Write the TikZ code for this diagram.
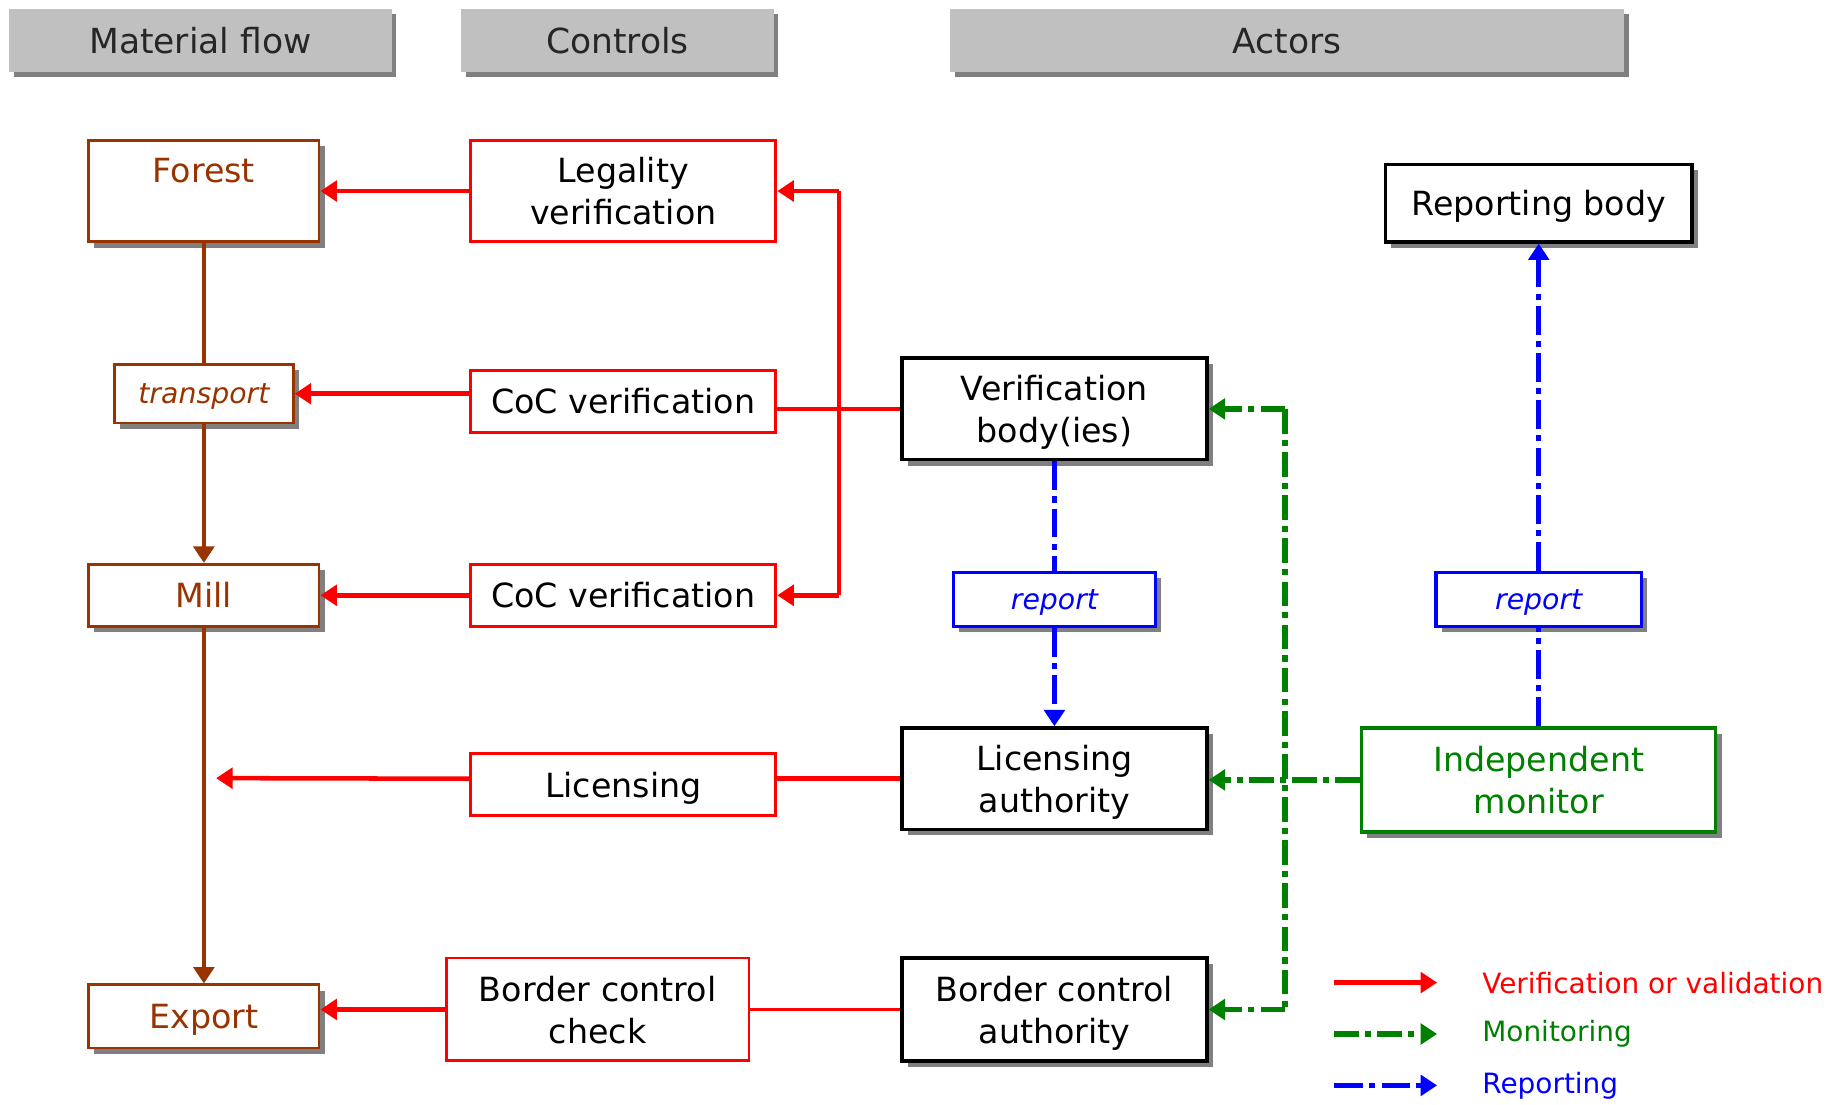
\documentclass[tikz,border=0pt]{standalone}
\usepackage{fontspec}
\setmainfont{DejaVu Sans}
\usetikzlibrary{arrows.meta,shadows}
\definecolor{mfbrown}{RGB}{153,51,0}
\definecolor{mfgreen}{RGB}{0,128,0}
\definecolor{hdgray}{RGB}{192,192,192}
\tikzset{
    boxshadow/.style={drop shadow={shadow xshift=1.4pt,shadow yshift=-1.4pt,opacity=1,fill=black!50}},
    txt/.style={font=\fontsize{8.1}{10.2}\selectfont,align=center,text depth=0pt},
    small/.style={font=\fontsize{6.9}{8}\selectfont\itshape}
}
\begin{document}
\begin{tikzpicture}[x=0.01cm,y=-0.01cm,>={Triangle[length=4pt,width=5pt]}]
        \useasboundingbox (0,0) rectangle (1568,945);
        \begin{scope}[every node/.style={fill=hdgray,text=black!85,font=\fontsize{8.4}{10}\selectfont,minimum height=0.54cm,inner sep=0pt,drop shadow={shadow xshift=1.2pt,shadow yshift=-1.2pt,opacity=1,fill=black!50}}]
            \node (h1) [minimum width=3.27cm] at (171.5,35) {Material flow};
            \node (h2) [minimum width=2.67cm] at (528.5,35) {Controls};
            \node (h3) [minimum width=5.77cm] at (1101.5,35) {Actors};
        \end{scope}
        \begin{scope}[every node/.style={draw=mfbrown,line width=0.7pt,fill=white,text=mfbrown,boxshadow,txt,minimum width=1.97cm,minimum height=0.53cm,inner sep=0pt}]
            \node (1) [minimum height=0.87cm] at (174.5,163.5) {Forest\\\mbox{}};
            \node (2) [minimum width=1.53cm,minimum height=0.5cm,small] at (174.5,337) {transport};
            \node (3) at (174.5,509.5) {Mill};
            \node (4) [minimum height=0.54cm] at (174.5,870) {Export};
        \end{scope}
        \begin{scope}[every node/.style={draw=red,line width=0.7pt,fill=white,txt,minimum width=2.61cm,minimum height=0.53cm,inner sep=0pt}]
            \node (5) [minimum height=0.87cm] at (533.5,163.5) {Legality\\verification};
            \node (6) at (533.5,343.5) {CoC verification};
            \node (7) at (533.5,509.5) {CoC verification};
            \node (8) at (533.5,671.5) {Licensing};
            \node (9) [minimum width=2.59cm,minimum height=0.88cm] at (511.5,864) {Border control\\check};
        \end{scope}
        \begin{scope}[every node/.style={draw=black,line width=0.8pt,fill=white,txt,boxshadow,minimum width=2.61cm,minimum height=0.87cm,inner sep=0pt}]
            \node (10) at (902.5,350) {Verification\\body(ies)};
            \node (11) at (902.5,666.5) {Licensing\\authority};
            \node (12) [minimum height=0.88cm] at (902.5,864) {Border control\\authority};
            \node (13) [minimum width=2.62cm,minimum height=0.66cm] at (1317,174) {Reporting body};
            \node (14) [draw=mfgreen,text=mfgreen,minimum width=3.03cm,minimum height=0.89cm] at (1317,667.5) {Independent\\monitor};
            \node (15) [draw=blue,text=blue,small,minimum width=1.73cm,minimum height=0.46cm] at (902.5,513) {report};
            \node (16) [draw=blue,text=blue,small,minimum width=1.76cm,minimum height=0.46cm] at (1317,513) {report};
        \end{scope}
        \begin{scope}[every node/.style={anchor=west,font=\fontsize{6.8}{8}\selectfont,inner sep=0pt}]
            \node (17) [text=red] at (1268,841) {Verification or validation};
            \node (18) [text=mfgreen] at (1268,885) {Monitoring};
            \node (19) [text=blue] at (1268,929) {Reporting};
        \end{scope}
        \coordinate (r) at (718,349);
        \coordinate (g) at (1100,666);
        \coordinate (l) at (185,666);
        \coordinate (a1) at (1142,841);
        \coordinate (b1) at (1230,841);
        \coordinate (a2) at (1142,885);
        \coordinate (b2) at (1230,885);
        \coordinate (a3) at (1142,929);
        \coordinate (b3) at (1230,929);
        \begin{scope}[every edge/.style={draw,mfbrown,line width=1.1pt}]
            \path
                (1) edge (2)
                (2) edge [->] (3)
                (3) edge [->] (4);
        \end{scope}
        \begin{scope}[every edge/.style={draw,red,line width=1.1pt}]
            \path
                (5) edge [->] (1)
                (2.east -| 6.west) edge [->] (2.east)
                (7) edge [->] (3)
                (10.west) edge (10.west -| 6.east)
                (r |- 5.east) edge (r |- 7.east)
                (r |- 5.east) edge [->] (5.east)
                (r |- 7.east) edge [->] (7.east)
                (11.west -| 8.west) edge [->] (l)
                (11.west -| 8.east) edge (11.west)
                (9.west) edge [->] (9.west -| 4.east)
                (9) edge [line width=0.6pt] (12)
                (a1) edge [->] (b1);
        \end{scope}
        \begin{scope}[every edge/.style={draw,mfgreen,line width=1.4pt,dash pattern=on 6pt off 1.5pt on 1.5pt off 1.5pt}]
            \path
                (14.west) edge [->] (14.west -| 11.east)
                (g |- 10.east) edge (g |- 12.east)
                (g |- 10.east) edge [->] (10.east)
                (g |- 12.east) edge [->] (12.east)
                (a2) edge [->] (b2);
        \end{scope}
        \begin{scope}[every edge/.style={draw,blue,line width=1.2pt,dash pattern=on 7pt off 1.5pt on 1.5pt off 1.5pt}]
            \path
                (10) edge (15)
                (15) edge [->] (11)
                (14) edge (16)
                (16) edge [->] (13)
                (a3) edge [->] (b3);
        \end{scope}
    \end{tikzpicture}
\end{document}
